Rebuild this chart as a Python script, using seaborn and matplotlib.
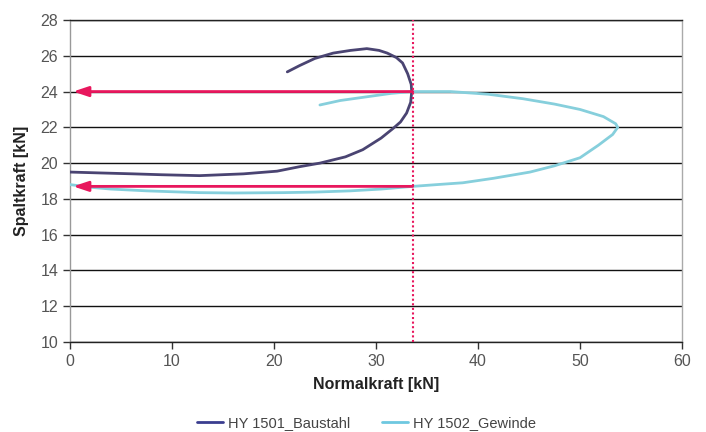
import pandas as pd
import matplotlib.pyplot as plt
import seaborn as sns

# Messkurven
baustahl_x = [21.3, 22.5, 24.0, 25.8, 27.5, 29.1, 30.3, 31.1, 32.0, 32.6, 33.1, 33.45, 33.5,
              33.4, 33.0, 32.4, 31.7, 30.5, 28.7, 27.0, 24.5, 22.5, 20.3, 17.0, 12.7, 9.0,
              6.2, 3.0, 0.0]
baustahl_y = [25.1, 25.45, 25.85, 26.15, 26.3, 26.4, 26.3, 26.15, 25.9, 25.6, 25.0, 24.4, 24.0,
              23.4, 22.8, 22.3, 21.95, 21.4, 20.75, 20.35, 20.0, 19.8, 19.55, 19.4, 19.3, 19.35,
              19.4, 19.45, 19.5]

gewinde_x = [24.5, 26.5, 29.0, 31.5, 33.5, 37.3, 41.0, 44.4, 47.5, 50.0, 52.3, 53.5, 53.7,
             53.2, 51.8, 50.0, 47.5, 45.1, 41.5, 38.5, 36.0, 33.6, 30.5, 27.5, 24.0, 20.9,
             16.0, 12.7, 10.0, 7.5, 4.0, 2.0, 0.0]
gewinde_y = [23.25, 23.5, 23.7, 23.9, 24.0, 24.0, 23.85, 23.6, 23.3, 23.0, 22.6, 22.2, 22.0,
             21.6, 21.0, 20.3, 19.85, 19.5, 19.15, 18.9, 18.8, 18.7, 18.55, 18.45, 18.38, 18.35,
             18.33, 18.35, 18.4, 18.45, 18.55, 18.65, 18.8]

# Markierung
normal_mark = 33.6
spalt_marks = [24.0, 18.7]

labels = ["HY 1501_Baustahl", "HY 1502_Gewinde"]

sns.set_style("white")
plt.rcParams["font.family"] = ["Liberation Sans", "DejaVu Sans"]

fig, ax = plt.subplots(figsize=(7.06, 4.32), dpi=100)
fig.subplots_adjust(left=0.0992, right=0.966, bottom=0.2083, top=0.9537)

df_b = pd.DataFrame({"x": baustahl_x, "y": baustahl_y})
df_g = pd.DataFrame({"x": gewinde_x, "y": gewinde_y})

sns.lineplot(data=df_g, x="x", y="y", sort=False, estimator=None, ax=ax,
             color="#86cfdc", lw=2, label=labels[1], zorder=3)
sns.lineplot(data=df_b, x="x", y="y", sort=False, estimator=None, ax=ax,
             color="#4a4472", lw=2, label=labels[0], zorder=4)

# Pfeile und gepunktete Linie
ax.axvline(normal_mark, color="#e8175d", lw=1.5, ls=(0, (1, 1.2)), zorder=5)
for yv in spalt_marks:
    ax.annotate("", xy=(0.3, yv), xytext=(normal_mark, yv),
                arrowprops=dict(arrowstyle="-|>,head_length=0.9,head_width=0.3",
                                color="#e8175d", lw=2, shrinkA=0, shrinkB=0),
                zorder=6)

ax.set_xlim(0, 60)
ax.set_ylim(10, 28)
ax.set_xticks(range(0, 61, 10))
ax.set_yticks(range(10, 29, 2))
ax.yaxis.grid(True, color="#111111", lw=1)
ax.xaxis.grid(False)
ax.set_axisbelow(True)

ax.tick_params(axis="both", direction="out", length=5, width=1, color="#333333",
               labelcolor="#555555", labelsize=11.5, left=True, bottom=True)
ax.spines["left"].set_color("#999999")
ax.spines["right"].set_color("#aaaaaa")
ax.spines["bottom"].set_color("#222222")
ax.spines["top"].set_color("#222222")
for s in ax.spines.values():
    s.set_linewidth(1)

ax.set_xlabel("Normalkraft [kN]", fontsize=11.5, fontweight="bold", color="#222222", labelpad=6)
ax.set_ylabel("Spaltkraft [kN]", fontsize=11.5, fontweight="bold", color="#222222", labelpad=8)

handles, lbls = ax.get_legend_handles_labels()
order = [lbls.index(l) for l in labels]
leg = ax.legend([handles[i] for i in order], [lbls[i] for i in order],
                loc="upper center", bbox_to_anchor=(0.484, -0.19), ncol=2, frameon=False,
                fontsize=10.5, columnspacing=2.2, handlelength=1.8, handletextpad=0.3)
leg.legend_handles[0].set_color("#3a3d8f")
leg.legend_handles[1].set_color("#6ec8e0")
for t in leg.get_texts():
    t.set_color("#444444")

plt.savefig("out.png", dpi=100)
plt.close()
